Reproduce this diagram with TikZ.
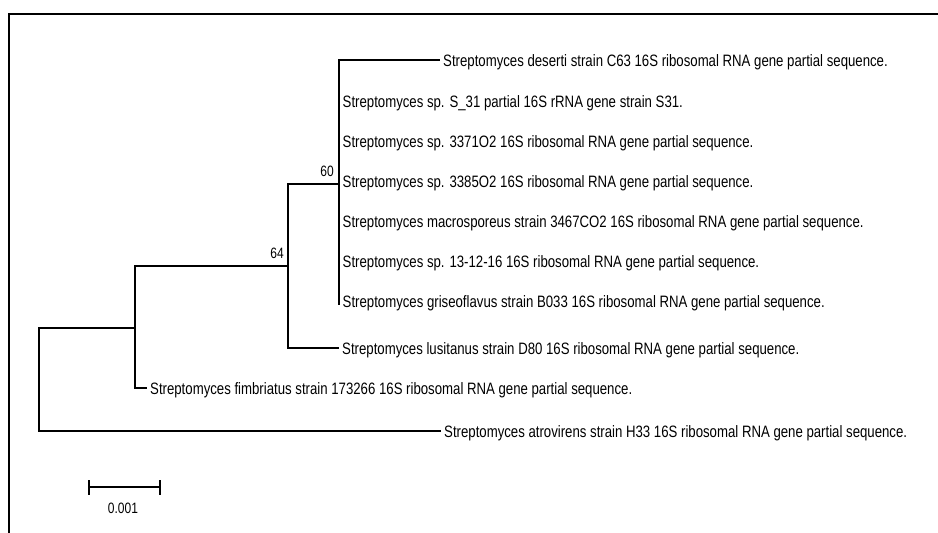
\documentclass[tikz,border=0pt]{standalone}
\usepackage{fontspec}
\setmainfont{Liberation Sans}[FakeStretch=0.8]
\begin{document}
\begin{tikzpicture}[x=1pt,y=-1pt,
  br/.style={line width=1.2pt,black},
  frame/.style={line width=2pt,black},
  leaf/.style={anchor=west,inner xsep=3.5pt,inner ysep=0pt,text height=12pt,text depth=0pt,font=\fontsize{16.5}{19}\selectfont},
  boot/.style={inner sep=0pt,font=\fontsize{15}{17}\selectfont}]
\useasboundingbox (0,0) rectangle (938,533);
\draw[frame] (9,533) -- (9,14) -- (938,14);
% internal nodes
\coordinate (r) at (39,328);
\coordinate (n1) at (135,328);
\coordinate (n64) at (288,266);
\coordinate (n60) at (339,184);
% leaves
\node[leaf] (des) at (439.5,60) {Streptomyces deserti strain C63 16S ribosomal RNA gene partial sequence.};
\node[leaf] (s31) at (339,101) {Streptomyces sp. S\_31 partial 16S rRNA gene strain S31.};
\node[leaf] (s337) at (339,141) {Streptomyces sp. 3371O2 16S ribosomal RNA gene partial sequence.};
\node[leaf] (s338) at (339,181) {Streptomyces sp. 3385O2 16S ribosomal RNA gene partial sequence.};
\node[leaf] (mac) at (339,221) {Streptomyces macrosporeus strain 3467CO2 16S ribosomal RNA gene partial sequence.};
\node[leaf] (s13) at (339,261) {Streptomyces sp. 13-12-16 16S ribosomal RNA gene partial sequence.};
\node[leaf] (gri) at (339,301) {Streptomyces griseoflavus strain B033 16S ribosomal RNA gene partial sequence.};
\node[leaf] (lus) at (338.5,348) {Streptomyces lusitanus strain D80 16S ribosomal RNA gene partial sequence.};
\node[leaf] (fim) at (146.5,388) {Streptomyces fimbriatus strain 173266 16S ribosomal RNA gene partial sequence.};
\node[leaf] (atr) at (440.5,431) {Streptomyces atrovirens strain H33 16S ribosomal RNA gene partial sequence.};
% branches
\draw[br] (des.west) -| (n60) -- ([yshift=-4pt]n60 |- gri.west);
\draw[br] (n60) -| (n64) |- (lus.west);
\draw[br] (n64) -| (n1) |- (fim.west);
\draw[br] (n1) -- (r) |- (atr.west);
% bootstrap
\node[boot] (b60) at (327,171) {60};
\node[boot] (b64) at (277,253) {64};
% scale bar
\coordinate (sa) at (89,487);
\coordinate (sb) at (160,487);
\draw[br] (sa) -- (sb);
\draw[br] ([yshift=-7.5pt]sa) -- ([yshift=7.5pt]sa);
\draw[br] ([yshift=-7.5pt]sb) -- ([yshift=7.5pt]sb);
\node[boot] (sl) at (123,508) {0.001};
\end{tikzpicture}
\end{document}
